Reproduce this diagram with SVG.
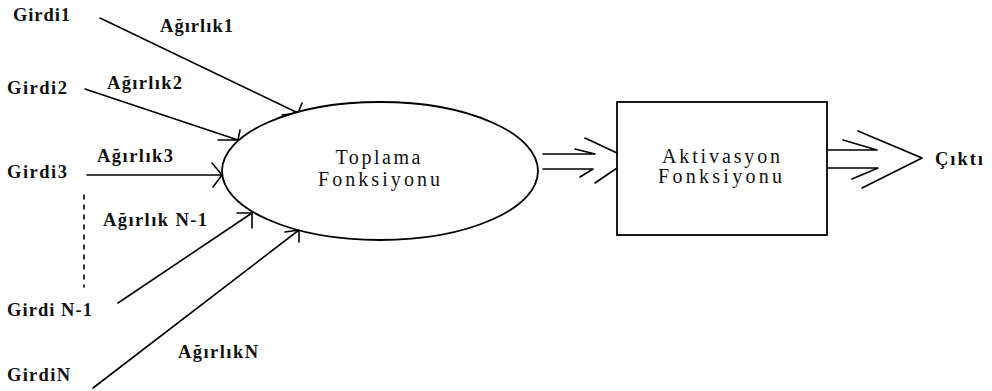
<svg xmlns="http://www.w3.org/2000/svg" width="992" height="391" viewBox="0 0 992 391">
<style>
  .ln { fill: none; stroke: #000; stroke-width: 1.6; stroke-linecap: round; stroke-linejoin: round; }
  .shape { fill: #fff; stroke: #000; stroke-width: 1.8; }
  .lbl { font-family: "Liberation Serif", "Times New Roman", serif; font-size: 18.5px; font-weight: bold; fill: #111; }
  .txt { font-family: "Liberation Serif", "Times New Roman", serif; font-size: 20px; fill: #111; text-anchor: middle; }
</style>
<rect width="992" height="391" fill="#fff"/>

<g id="connectors">
  <!-- inputs -->
  <path class="ln" d="M100,18 L298,113 M282,115 L298,113 L302,103"/>
  <path class="ln" d="M85,89 L238,140 M218,140 L238,140 L240,130"/>
  <path class="ln" d="M87,175 L222,175 M212,163 L222,175 L213,187"/>
  <path class="ln" d="M118,303 L252,213 M237,213 L252,213 L252,228"/>
  <path class="ln" d="M93,388 L299,230 M285,232 L299,230 L299,242"/>
  <line class="ln" x1="84" y1="195" x2="84" y2="287" stroke-width="2" stroke-linecap="butt" stroke-dasharray="4,6"/>
  <!-- ellipse to rect -->
  <path class="ln" d="M543,154 L595,154 M575,149 L595,154"/>
  <path class="ln" d="M543,169 L593,169 M580,177 L593,169"/>
  <path class="ln" d="M585,138 L617,153 M595,183 L617,168"/>
  <!-- rect to output -->
  <path class="ln" d="M827,150 L877,150 M843,140 L877,150"/>
  <path class="ln" d="M827,168 L878,168 M852,179 L878,168"/>
  <path class="ln" d="M858,131 L922,158 L862,188"/>
</g>

<g id="toplama">
  <ellipse class="shape" cx="380" cy="171" rx="158" ry="69"/>
  <text class="txt" x="378" y="164" textLength="85" lengthAdjust="spacing">Toplama</text>
  <text class="txt" x="379" y="186" textLength="122" lengthAdjust="spacing">Fonksiyonu</text>
</g>

<g id="aktivasyon">
  <rect class="shape" x="617" y="102" width="210" height="133"/>
  <text class="txt" x="721" y="163" textLength="118" lengthAdjust="spacing">Aktivasyon</text>
  <text class="txt" x="720" y="183" textLength="124" lengthAdjust="spacing">Fonksiyonu</text>
</g>

<g id="girdi1"><text class="lbl" x="13" y="21" textLength="57" lengthAdjust="spacing">Girdi1</text></g>
<g id="girdi2"><text class="lbl" x="7" y="94" textLength="60" lengthAdjust="spacing">Girdi2</text></g>
<g id="girdi3"><text class="lbl" x="7" y="178" textLength="60" lengthAdjust="spacing">Girdi3</text></g>
<g id="girdiN-1"><text class="lbl" x="7" y="316" textLength="85" lengthAdjust="spacing">Girdi N-1</text></g>
<g id="girdiN"><text class="lbl" x="7" y="381" textLength="63" lengthAdjust="spacing">GirdiN</text></g>

<g id="agirlik1"><text class="lbl" x="160" y="32" textLength="73" lengthAdjust="spacing">Ağırlık1</text></g>
<g id="agirlik2"><text class="lbl" x="107" y="89" textLength="75" lengthAdjust="spacing">Ağırlık2</text></g>
<g id="agirlik3"><text class="lbl" x="97" y="162" textLength="76" lengthAdjust="spacing">Ağırlık3</text></g>
<g id="agirlikN-1"><text class="lbl" x="103" y="226" textLength="104" lengthAdjust="spacing">Ağırlık N-1</text></g>
<g id="agirlikN"><text class="lbl" x="178" y="358" textLength="80" lengthAdjust="spacing">AğırlıkN</text></g>

<g id="cikti"><text class="lbl" x="935" y="165" textLength="48" lengthAdjust="spacing">Çıktı</text></g>
</svg>
